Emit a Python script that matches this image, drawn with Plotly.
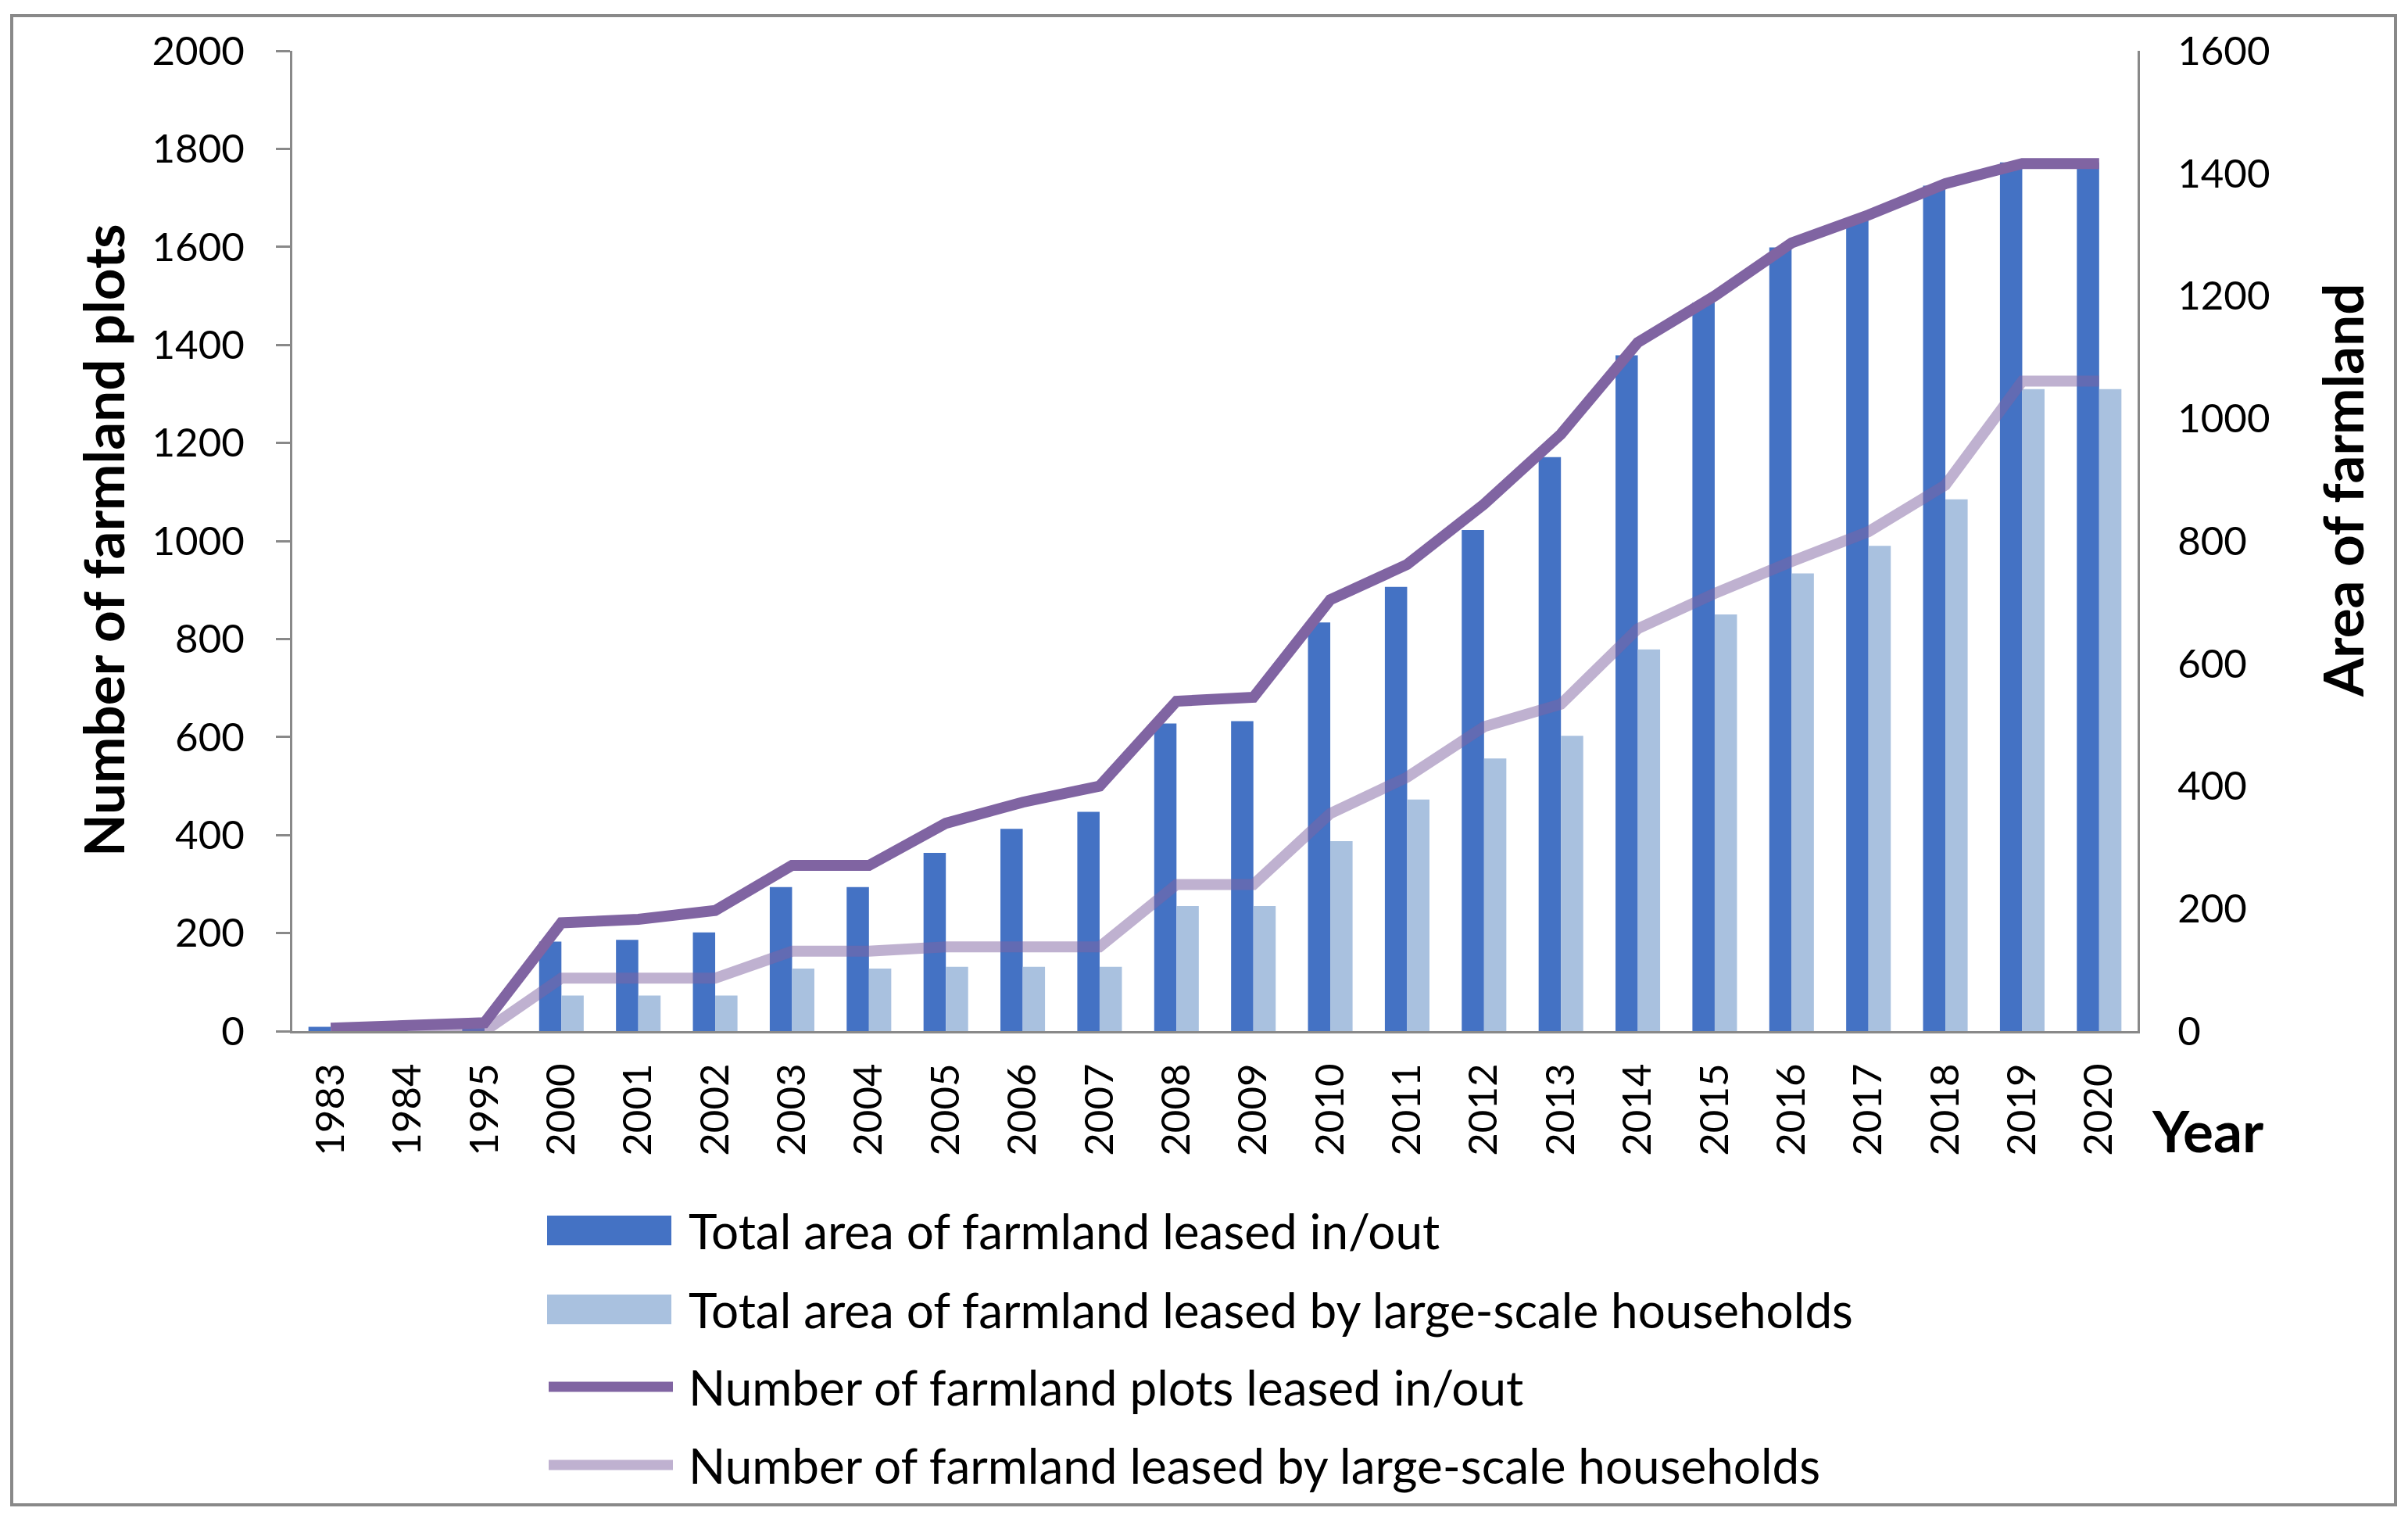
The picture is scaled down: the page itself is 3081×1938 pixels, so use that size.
import plotly.graph_objects as go

# ---------------- data ----------------
years = ["1983", "1984", "1995", "2000", "2001", "2002", "2003", "2004", "2005",
         "2006", "2007", "2008", "2009", "2010", "2011", "2012", "2013", "2014",
         "2015", "2016", "2017", "2018", "2019", "2020"]

# bars -> right axis (Area of farmland)
total_area = [7, 5, 5, 146, 149, 161, 235, 235, 291, 330, 358, 502, 506, 667,
              725, 818, 937, 1103, 1189, 1279, 1326, 1380, 1418, 1418]
large_area = [0, 0, 0, 58, 58, 58, 102, 102, 105, 105, 105, 204, 204, 310,
              378, 445, 482, 623, 680, 747, 792, 868, 1048, 1048]

# lines -> left axis (Number of farmland plots)
plots_total = [6, 11, 17, 221, 228, 246, 338, 338, 424, 467, 500, 673, 681, 880,
               952, 1075, 1218, 1405, 1500, 1608, 1665, 1729, 1770, 1770]
plots_large = [0, 0, 0, 108, 108, 108, 163, 163, 172, 172, 172, 299, 299, 444,
               518, 621, 667, 821, 893, 958, 1019, 1114, 1326, 1326]

series_names = ["Total area of farmland leased in/out",
                "Total area of farmland leased by large-scale households",
                "Number of farmland plots leased in/out",
                "Number of farmland leased by large-scale households"]

left_title = "Number of farmland plots"
right_title = "Area of farmland"
x_title = "Year"

# ---------------- style ----------------
C_DARK_BAR = "#4472C4"
C_LIGHT_BAR = "#A9C1DF"
C_DARK_LINE = "#8064A2"
C_LIGHT_LINE = "rgba(128,100,162,0.5)"
GRAY = "#898989"
FONT = "Lato"
LW = 14

W, H = 3081, 1938
L, R, T, B = 374, 2735, 65, 1319


def px(x):
    return (x - L) / (R - L)


def py(y):
    return (B - y) / (B - T)


fig = go.Figure()
fig.add_trace(go.Bar(x=years, y=total_area, name=series_names[0],
                     marker=dict(color=C_DARK_BAR, line=dict(width=0)),
                     yaxis="y", showlegend=False))
fig.add_trace(go.Bar(x=years, y=large_area, name=series_names[1],
                     marker=dict(color=C_LIGHT_BAR, line=dict(width=0)),
                     yaxis="y", showlegend=False))
fig.add_trace(go.Scatter(x=years, y=plots_total, name=series_names[2], mode="lines",
                         line=dict(color=C_DARK_LINE, width=LW),
                         yaxis="y2", cliponaxis=False, showlegend=False))
fig.add_trace(go.Scatter(x=years, y=plots_large, name=series_names[3], mode="lines",
                         line=dict(color=C_LIGHT_LINE, width=LW),
                         yaxis="y2", cliponaxis=False, showlegend=False))

tickfont = dict(family=FONT, size=51, color="black")

fig.update_layout(
    width=W, height=H,
    margin=dict(l=L, r=W - R, t=T, b=H - B, pad=0),
    paper_bgcolor="white", plot_bgcolor="white",
    barmode="group", bargap=0.42, bargroupgap=0,
    showlegend=False,
    xaxis=dict(type="category", showline=True, linecolor=GRAY, linewidth=3,
               ticks="", tickangle=-90, tickfont=tickfont, showgrid=False,
               ticklabelstandoff=18),
    yaxis=dict(side="right", range=[0, 1600], dtick=200, showline=True,
               linecolor=GRAY, linewidth=3, ticks="", showgrid=False,
               zeroline=False, tickfont=tickfont, ticklabelstandoff=38),
    yaxis2=dict(side="left", overlaying="y", range=[0, 2000], dtick=200,
                showline=True, linecolor=GRAY, linewidth=3, ticks="outside",
                ticklen=18, tickwidth=3, tickcolor=GRAY, showgrid=False,
                zeroline=False, tickfont=tickfont, ticklabelstandoff=30),
)

shapes = []
annotations = []

# outer border
shapes.append(dict(type="rect", xref="paper", yref="paper",
                   x0=px(15), x1=px(3065), y0=py(1925), y1=py(20),
                   line=dict(color=GRAY, width=4), fillcolor="rgba(0,0,0,0)",
                   layer="below"))

# axis titles
annotations.append(dict(xref="paper", yref="paper", x=px(131), y=py(691),
                        text=left_title, textangle=-90, showarrow=False,
                        font=dict(family=FONT, size=71, color="black", weight=700),
                        xanchor="center", yanchor="middle"))
annotations.append(dict(xref="paper", yref="paper", x=px(2996), y=py(627),
                        text=right_title, textangle=-90, showarrow=False,
                        font=dict(family=FONT, size=71, color="black", weight=700),
                        xanchor="center", yanchor="middle"))
annotations.append(dict(xref="paper", yref="paper", x=px(2824), y=py(1446),
                        text=x_title, showarrow=False,
                        font=dict(family=FONT, size=73, color="black", weight=700),
                        xanchor="center", yanchor="middle"))

# custom legend (swatches like the reference)
leg_rows = [1574, 1675, 1774, 1874]
sw_x0, sw_x1, txt_x = 700, 859, 879
for i, (name, yc) in enumerate(zip(series_names, leg_rows)):
    if i < 2:
        col = C_DARK_BAR if i == 0 else C_LIGHT_BAR
        shapes.append(dict(type="rect", xref="paper", yref="paper",
                           x0=px(sw_x0), x1=px(sw_x1),
                           y0=py(yc + 19), y1=py(yc - 19),
                           line=dict(width=0), fillcolor=col))
    else:
        col = C_DARK_LINE if i == 2 else C_LIGHT_LINE
        shapes.append(dict(type="line", xref="paper", yref="paper",
                           x0=px(sw_x0 + 2), x1=px(sw_x1 + 2),
                           y0=py(yc), y1=py(yc),
                           line=dict(color=col, width=13)))
    annotations.append(dict(xref="paper", yref="paper", x=px(txt_x), y=py(yc),
                            text=name, showarrow=False,
                            font=dict(family=FONT, size=62, color="black"),
                            xanchor="left", yanchor="middle"))

fig.update_layout(shapes=shapes, annotations=annotations)

fig.write_html("out.html",
               config={"displayModeBar": False},
               post_script="document.body.style.margin='0px';")
